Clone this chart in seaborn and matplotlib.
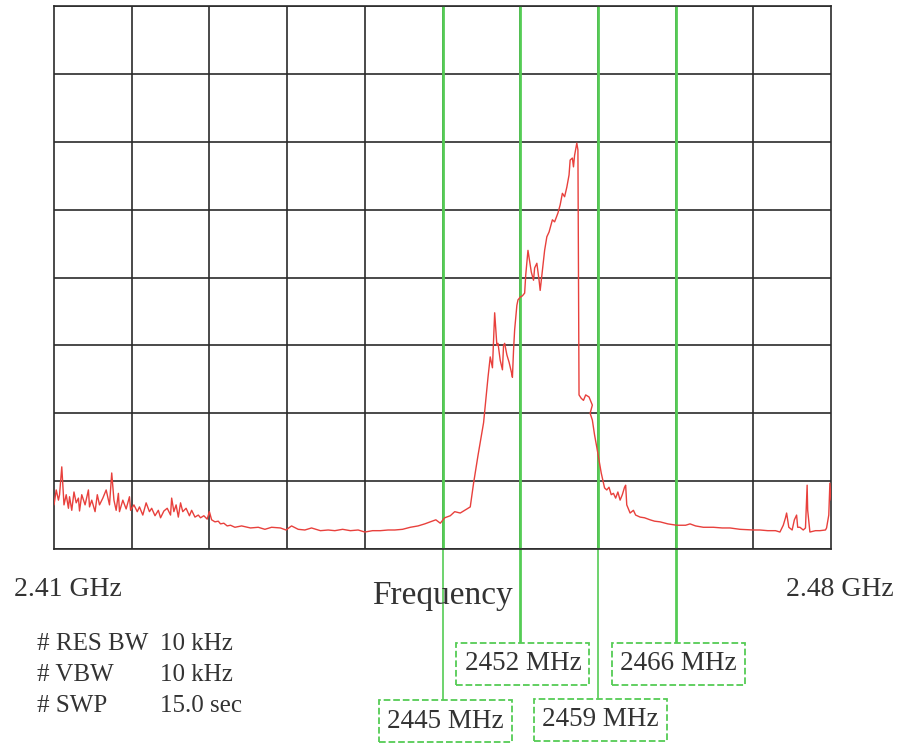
import numpy as np
import pandas as pd
import seaborn as sns
import matplotlib.pyplot as plt
from matplotlib.transforms import blended_transform_factory

# spectrum trace: frequency (MHz) and level (dB, 10 dB/div)
freq_mhz = [
    2410.0, 2410.2, 2410.4, 2410.5, 2410.7, 2410.9, 2411.1, 2411.3, 2411.4, 2411.6,
    2411.8, 2412.0, 2412.2, 2412.3, 2412.5, 2412.8, 2413.1, 2413.2, 2413.4, 2413.7,
    2413.9, 2414.1, 2414.4, 2414.7, 2415.0, 2415.2, 2415.4, 2415.6, 2415.8, 2415.9,
    2416.2, 2416.5, 2416.8, 2416.9, 2417.2, 2417.5, 2417.7, 2418.0, 2418.3, 2418.6,
    2418.8, 2419.1, 2419.4, 2419.6, 2419.9, 2420.2, 2420.5, 2420.6, 2420.8, 2421.0,
    2421.2, 2421.4, 2421.6, 2421.9, 2422.2, 2422.4, 2422.7, 2423.0, 2423.2, 2423.5,
    2423.8, 2424.0, 2424.2, 2424.5, 2424.8, 2425.0, 2425.3, 2425.6, 2425.9,
    2426.3, 2426.9, 2427.7, 2428.4, 2429.0, 2429.6, 2430.4, 2430.9, 2431.4, 2432.0,
    2432.6, 2433.2, 2434.0, 2434.7, 2435.3, 2436.0, 2436.7, 2437.4, 2438.0, 2438.7,
    2439.4, 2440.1, 2440.7, 2441.4, 2442.1, 2442.8, 2443.4, 2443.9, 2444.4, 2444.8,
    2445.2, 2445.7, 2446.1, 2446.6, 2447.0, 2447.5,
    2447.8, 2448.2, 2448.7, 2448.9, 2449.1, 2449.3, 2449.5, 2449.6, 2449.7, 2449.9,
    2450.0, 2450.2, 2450.4, 2450.5, 2450.6, 2450.8, 2451.0, 2451.2, 2451.3, 2451.4,
    2451.5, 2451.7, 2451.8, 2452.0, 2452.2, 2452.4, 2452.5, 2452.7, 2452.9, 2453.0,
    2453.2, 2453.3, 2453.5, 2453.7, 2453.8, 2454.0, 2454.2, 2454.4, 2454.6, 2454.9,
    2455.1, 2455.4, 2455.6, 2455.8, 2456.0, 2456.2, 2456.4, 2456.5, 2456.7, 2456.8,
    2456.9, 2457.1, 2457.2, 2457.3, 2457.5, 2457.7, 2457.9, 2458.2, 2458.5, 2458.3,
    2458.5, 2458.7, 2458.9, 2459.1, 2459.3, 2459.5, 2459.6, 2459.8, 2460.0, 2460.2,
    2460.4, 2460.6, 2460.8, 2461.0, 2461.2, 2461.4, 2461.5, 2461.6, 2461.9, 2462.2,
    2462.4, 2462.8, 2463.2, 2463.7, 2464.1, 2464.6, 2465.3, 2466.1, 2466.9, 2467.3,
    2467.8, 2468.5, 2469.4, 2470.2, 2470.9, 2471.8, 2473.0, 2473.6, 2474.3, 2475.0,
    2475.4, 2475.7, 2475.9, 2476.0, 2476.2, 2476.5, 2476.7, 2476.9, 2477.0, 2477.2,
    2477.5, 2477.7, 2477.8, 2477.85, 2477.9, 2478.1, 2478.6, 2479.0, 2479.5, 2479.6,
    2479.8, 2479.9, 2480.0,
]
level_db = [
    -83.5, -81.3, -82.8, -82.0, -77.9, -83.5, -82.0, -84.0, -82.3, -84.3,
    -81.6, -83.2, -82.5, -84.4, -82.0, -83.5, -81.3, -83.8, -82.8, -84.5,
    -82.0, -83.5, -82.5, -81.3, -83.5, -78.8, -82.8, -84.3, -81.8, -84.5,
    -82.8, -84.1, -82.3, -84.3, -83.5, -84.5, -83.8, -85.0, -83.2, -84.5,
    -84.0, -85.1, -84.3, -85.4, -84.4, -84.0, -85.0, -82.5, -84.5, -83.5,
    -85.3, -83.2, -84.5, -84.0, -85.1, -84.3, -85.3, -85.0, -85.4, -85.1,
    -85.6, -84.5, -85.7, -86.0, -85.9, -86.3, -86.2, -86.6, -86.5,
    -86.8, -86.6, -86.9, -86.8, -87.1, -86.8, -86.9, -87.2, -86.6, -87.1,
    -87.2, -86.9, -87.3, -87.2, -87.3, -87.1, -87.3, -87.2, -87.5, -87.3,
    -87.3, -87.2, -87.2, -87.1, -86.8, -86.6, -86.3, -86.0, -85.7, -86.2,
    -85.4, -85.1, -84.5, -84.7, -84.3, -83.8,
    -80.3, -76.2, -71.4, -68.1, -64.7, -61.7, -63.3, -59.2, -55.2, -60.0,
    -59.7, -62.2, -63.6, -60.0, -59.7, -61.4, -62.5, -63.9, -64.7, -60.7,
    -57.7, -54.1, -53.3, -52.9, -52.7, -52.3, -49.6, -46.0, -48.2, -49.2,
    -50.4, -48.6, -47.9, -50.4, -51.9, -48.9, -46.0, -44.0, -43.3, -41.5,
    -41.8, -40.5, -39.3, -37.6, -38.1, -36.7, -34.9, -32.7, -32.4, -33.7,
    -32.0, -30.2, -31.2, -67.3, -67.8, -68.1, -67.3, -67.6, -68.8, -70.0,
    -71.0, -73.2, -75.0, -76.9, -78.8, -80.3, -81.0, -81.3, -80.9, -82.0,
    -81.8, -82.5, -81.6, -82.8, -82.0, -80.9, -80.6, -83.5, -84.7, -84.3,
    -85.0, -85.3, -85.4, -85.7, -85.9, -86.0, -86.3, -86.5, -86.5, -86.3,
    -86.6, -86.8, -86.8, -86.9, -86.9, -87.1, -87.2, -87.2, -87.3, -87.3,
    -87.5, -86.5, -85.4, -84.7, -86.8, -87.2, -85.7, -85.0, -86.8, -86.8,
    -87.2, -86.9, -82.8, -80.6, -84.3, -87.5, -87.3, -87.3, -87.2, -86.9,
    -85.0, -80.3, -82.8,
]

marker_mhz = [2445, 2452, 2459, 2466]
marker_labels = ["2445 MHz", "2452 MHz", "2459 MHz", "2466 MHz"]
edge_labels = ["2.41 GHz", "2.48 GHz"]
settings_names = ["# RES BW", "# VBW", "# SWP"]
settings_values = ["10 kHz", "10 kHz", "15.0 sec"]

df = pd.DataFrame({"freq": freq_mhz, "level": level_db})

sns.set_style("white")
plt.rcParams["font.family"] = ["Liberation Serif", "DejaVu Serif"]

grid_col = "#2b2b2b"
green = "#55cc55"
txt_col = "#333333"

fig = plt.figure(figsize=(8.99, 7.44), dpi=100)
ax = fig.add_axes([54 / 899, 1 - 549 / 744, 777 / 899, 543 / 744])

ax.set_xlim(2410, 2480)
ax.set_ylim(-90, -10)

# graticule, 10 x 8 divisions
ax.set_xticks(np.arange(2410, 2481, 7), minor=True)
ax.set_yticks(np.arange(-90, -9, 10), minor=True)
ax.grid(which="minor", color=grid_col, lw=1.2)
ax.set_yticks([])
ax.set_xticks([2410, 2480])
ax.set_xticklabels([])
ax.tick_params(axis="x", which="major", length=12, width=1.2, color=grid_col)
ax.tick_params(which="minor", length=0)
for s in ax.spines.values():
    s.set_color(grid_col)
    s.set_linewidth(1.2)

# marker lines
for f in marker_mhz:
    ax.axvline(f, color=green, lw=2, zorder=1)

sns.lineplot(data=df, x="freq", y="level", sort=False, estimator=None,
             color="#e8403c", lw=1.0, ax=ax, zorder=3)
ax.set_xlabel("")
ax.set_ylabel("")

# marker lines continue below the screen down to their boxes
trans = blended_transform_factory(ax.transData, fig.transFigure)
box_tops = [1 - 700 / 744, 1 - 642 / 744, 1 - 698 / 744, 1 - 642 / 744]
box_y = [1 - 721 / 744, 1 - 664 / 744, 1 - 720 / 744, 1 - 664 / 744]
line_w = [1.2, 2, 1.2, 2]
for f, top, yb, lab, w in zip(marker_mhz, box_tops, box_y, marker_labels, line_w):
    ax.plot([f, f], [1 - 549 / 744, top], color=green, lw=w, transform=trans,
            clip_on=False, zorder=1)
    ax.text(f + 0.25, yb, lab, transform=trans, ha="center", va="center",
            fontsize=19.5, color=txt_col, zorder=4,
            bbox=dict(boxstyle="square,pad=0.3", fc="white", ec=green,
                      ls="--", lw=1.3))

# span end labels
for xp, lab in zip([68, 840], edge_labels):
    fig.text(xp / 899, 1 - 589 / 744, lab, ha="center", va="center",
             fontsize=20, color=txt_col)

fig.text(442 / 899, 1 - 596 / 744, "Frequency", ha="center", va="center",
         fontsize=24, color=txt_col)

for i, (n, v) in enumerate(zip(settings_names, settings_values)):
    y = 1 - (644 + 31 * i) / 744
    fig.text(37 / 899, y, n, ha="left", va="center", fontsize=18, color=txt_col)
    fig.text(160 / 899, y, v, ha="left", va="center", fontsize=18, color=txt_col)

fig.savefig("out.png", dpi=100)
